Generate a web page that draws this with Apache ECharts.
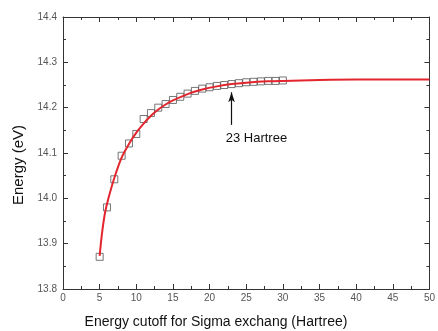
<!DOCTYPE html>
<html>
<head>
<meta charset="utf-8">
<script src="https://cdn.jsdelivr.net/npm/echarts@6/dist/echarts.min.js"></script>
<style>
  html, body { margin: 0; padding: 0; background: #fff; }
  #chart { width: 438px; height: 331px; }
</style>
</head>
<body>
<div id="chart"></div>
<script>
// Calculated quasiparticle energy vs. Sigma exchange cutoff
const cutoff = [5, 6, 7, 8, 9, 10, 11, 12, 13, 14, 15, 16, 17, 18, 19, 20,
                21, 22, 23, 24, 25, 26, 27, 28, 29, 30];
const energy = [13.871, 13.980, 14.042, 14.094, 14.121, 14.142, 14.175, 14.188,
                14.200, 14.208, 14.217, 14.224, 14.231, 14.237, 14.242, 14.245,
                14.248, 14.250, 14.252, 14.254, 14.256, 14.257, 14.258, 14.259,
                14.259, 14.260];

// Fitted convergence curve, sampled along the drawn line
const fitX = [5, 5.3, 5.7, 6.2, 7, 8, 9, 10, 11, 12, 13, 14, 15, 17, 19, 21,
              23, 25, 28, 30, 35, 40, 50];
const fitY = [13.873, 13.920, 13.965, 14.000, 14.045, 14.090, 14.120, 14.145,
              14.165, 14.182, 14.196, 14.207, 14.216, 14.230, 14.240, 14.247,
              14.252, 14.255, 14.258, 14.259, 14.261, 14.262, 14.262];

const xTicks = { min: 0, max: 50, interval: 5 };
const yTicks = { min: 13.8, max: 14.4, interval: 0.1 };

// Arrow marking the chosen cutoff
const arrowX = 23;
const arrowFrom = 14.162;
const arrowTo = 14.234;
const arrowText = '23 Hartree';
const arrowTextY = 14.133;

const font = 'Liberation Sans, Arial, sans-serif';
const axisColor = '#333';

function frameAxis(base, showLabels, position) {
  return Object.assign({
    type: 'value',
    position: position,
    axisLine: { show: true, onZero: false, lineStyle: { color: axisColor, width: 1 } },
    axisTick: { show: true, inside: true, length: 5, lineStyle: { color: axisColor } },
    minorTick: { show: true, splitNumber: 2, length: 3, lineStyle: { color: axisColor } },
    splitLine: { show: false },
    axisLabel: {
      show: showLabels, color: '#555', fontSize: 10, fontFamily: font,
      formatter: null
    }
  }, base);
}

const xMain = frameAxis(xTicks, true, 'bottom');
xMain.axisLabel.margin = 4;
const xTop = frameAxis(xTicks, false, 'top');
const yMain = frameAxis(yTicks, true, 'left');
yMain.axisLabel.formatter = v => v.toFixed(1);
yMain.axisLabel.margin = 6;
const yRight = frameAxis(yTicks, false, 'right');

const chart = echarts.init(document.getElementById('chart'), null, { renderer: 'canvas' });

chart.setOption({
  animation: false,
  backgroundColor: '#fff',
  grid: { left: 63, right: 6, top: 17, bottom: 42, containLabel: false },
  xAxis: [xMain, xTop],
  yAxis: [yMain, yRight],
  graphic: [
    {
      type: 'text', x: 216, y: 322,
      style: {
        text: 'Energy cutoff for Sigma exchang (Hartree)',
        font: '14px ' + font, fill: '#111',
        align: 'center', verticalAlign: 'middle'
      }
    },
    {
      type: 'text', x: 19, y: 165, rotation: Math.PI / 2,
      style: {
        text: 'Energy (eV)', font: '15px ' + font, fill: '#111',
        align: 'center', verticalAlign: 'middle'
      }
    }
  ],
  series: [
    {
      name: 'calc',
      type: 'scatter',
      xAxisIndex: 0, yAxisIndex: 0,
      data: cutoff.map((x, i) => [x, energy[i]]),
      symbol: 'rect',
      symbolSize: 7,
      itemStyle: { color: 'rgba(0,0,0,0)', borderColor: '#555', borderWidth: 1 },
      z: 2
    },
    {
      name: 'fit',
      type: 'line',
      xAxisIndex: 0, yAxisIndex: 0,
      data: fitX.map((x, i) => [x, fitY[i]]),
      smooth: 0.3,
      showSymbol: false,
      lineStyle: { color: '#e3262e', width: 2 },
      z: 3,
      markLine: {
        silent: true,
        symbol: ['none', 'arrow'],
        symbolSize: [5, 10],
        label: { show: false },
        lineStyle: { color: '#111', width: 1.2, type: 'solid' },
        data: [[{ coord: [arrowX, arrowFrom] }, { coord: [arrowX, arrowTo] }]]
      },
      markPoint: {
        silent: true,
        symbol: 'circle',
        symbolSize: 0,
        label: {
          show: true, position: 'right', distance: 0,
          formatter: arrowText, color: '#111', fontSize: 13, fontFamily: font
        },
        data: [{ coord: [arrowX - 0.8, arrowTextY] }]
      }
    }
  ]
});
</script>
</body>
</html>
